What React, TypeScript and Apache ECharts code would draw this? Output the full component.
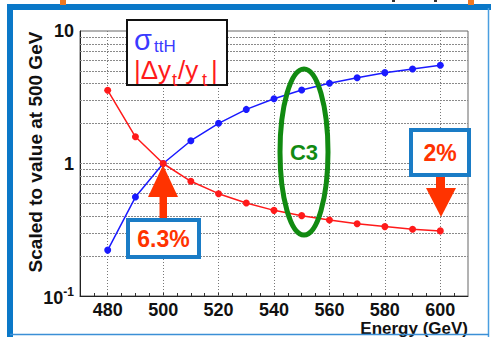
import React, { useEffect, useRef } from "react";
import * as echarts from "echarts";

const energies = [480, 490, 500, 510, 520, 530, 540, 550, 560, 570, 580, 590, 600];
const sigmaTTH = [0.222, 0.558, 1.0, 1.486, 2.01, 2.56, 3.08, 3.59, 4.03, 4.44, 4.85, 5.17, 5.51];
const deltaYt = [3.57, 1.59, 1.0, 0.734, 0.592, 0.503, 0.443, 0.404, 0.375, 0.351, 0.334, 0.319, 0.31];

const xLabelValues = [480, 500, 520, 540, 560, 580, 600];
const xTickValues = [475, 480, 485, 490, 495, 500, 505, 510, 515, 520, 525, 530, 535, 540, 545, 550, 555, 560, 565, 570, 575, 580, 585, 590, 595, 600, 605];
const yGridValues = [0.2, 0.3, 0.4, 0.5, 0.6, 0.7, 0.8, 0.9, 1, 2, 3, 4, 5, 6, 7, 8, 9];
const xGridValues = [480, 500, 520, 540, 560, 580, 600];

const FONT = "'Liberation Sans', Arial, sans-serif";
const BLUE = "#1a1aff";
const RED = "#ff1a1a";
const ORANGE_RED = "#ff3300";
const FRAME = "#0a78c8";
const GREEN = "#118a11";

export default function App() {
  const ref = useRef<HTMLDivElement>(null);
  useEffect(() => {
    if (!ref.current) return;
    const chart = echarts.init(ref.current, null, { renderer: "svg" });
    const markData: any[] = [];
    yGridValues.forEach((v) =>
      markData.push({ yAxis: v, lineStyle: { color: "#8a8a8a", type: [2, 1], width: 1 } })
    );
    xGridValues.forEach((v) =>
      markData.push({ xAxis: v, lineStyle: { color: "#777", type: [1, 2], width: 1 } })
    );
    const option: any = {
      animation: false,
      backgroundColor: "#ffffff",
      grid: {
        left: 80,
        top: 31,
        right: 23,
        bottom: 41,
        show: true,
        borderColor: "#666",
        borderWidth: 1,
      },
      xAxis: {
        type: "value",
        min: 470,
        max: 610,
        axisLine: { show: true, lineStyle: { color: "#222", width: 1 } },
        axisTick: {
          show: true,
          inside: true,
          length: 3,
          customValues: xTickValues,
          lineStyle: { color: "#333" },
        },
        axisLabel: {
          customValues: xLabelValues,
          fontSize: 18,
          fontWeight: "bold",
          fontFamily: FONT,
          color: "#111",
          margin: 5,
        },
        splitLine: { show: false },
      },
      yAxis: {
        type: "log",
        logBase: 10,
        min: 0.1,
        max: 10,
        axisLine: { show: true, lineStyle: { color: "#222", width: 1 } },
        axisTick: { show: false },
        splitLine: { show: false },
        axisLabel: {
          margin: 6,
          fontSize: 18,
          fontWeight: "bold",
          fontFamily: FONT,
          color: "#111",
          formatter: (v: number) => {
            const p = Math.round(Math.log10(v));
            if (p === 1) return "{b|10}";
            if (p === 0) return "{b|1}";
            return "{b|10}{sup|-1}";
          },
          rich: {
            b: { fontSize: 18, fontWeight: "bold", fontFamily: FONT, color: "#111", verticalAlign: "bottom" },
            sup: {
              fontSize: 12,
              fontWeight: "bold",
              fontFamily: FONT,
              color: "#111",
              verticalAlign: "bottom",
              padding: [0, 0, 9, 0],
            },
          },
        },
      },
      series: [
        {
          type: "line",
          data: energies.map((e, i) => [e, sigmaTTH[i]]),
          symbol: "circle",
          symbolSize: 7,
          lineStyle: { color: BLUE, width: 1.5 },
          itemStyle: { color: BLUE },
          z: 3,
          markLine: {
            silent: true,
            symbol: ["none", "none"],
            label: { show: false },
            z: 1,
            data: markData,
          },
        },
        {
          type: "line",
          data: energies.map((e, i) => [e, deltaYt[i]]),
          symbol: "circle",
          symbolSize: 7,
          lineStyle: { color: RED, width: 1.5 },
          itemStyle: { color: RED },
          z: 4,
        },
      ],
      graphic: [
        // slide frame
        { type: "rect", shape: { x: 7, y: 4, width: 484, height: 6 }, style: { fill: FRAME }, z: 100 },
        { type: "rect", shape: { x: 7, y: 4, width: 6, height: 333 }, style: { fill: FRAME }, z: 100 },
        { type: "line", shape: { x1: 488.5, y1: 8, x2: 488.5, y2: 337 }, style: { stroke: "#4a9ee0", lineWidth: 1.5 }, z: 100 },
        { type: "line", shape: { x1: 10, y1: 334.5, x2: 489, y2: 334.5 }, style: { stroke: "#3b8fd6", lineWidth: 1.5 }, z: 100 },
        { type: "rect", shape: { x: 60, y: 0, width: 6, height: 5 }, style: { fill: "#f07820" }, z: 101 },
        { type: "rect", shape: { x: 468, y: 0, width: 6, height: 5 }, style: { fill: "#f07820" }, z: 101 },
        { type: "rect", shape: { x: 392, y: 0, width: 3, height: 2 }, style: { fill: "#333" }, z: 101 },
        { type: "rect", shape: { x: 434, y: 0, width: 3, height: 2 }, style: { fill: "#333" }, z: 101 },
        // axis titles
        {
          type: "text",
          x: 35,
          y: 152,
          rotation: Math.PI / 2,
          style: {
            text: "Scaled to value at 500 GeV",
            fontSize: 19,
            fontWeight: "bold",
            fontFamily: FONT,
            fill: "#111",
            align: "center",
            verticalAlign: "middle",
          },
          z: 50,
        },
        {
          type: "text",
          x: 468,
          y: 328,
          style: {
            text: "Energy (GeV)",
            fontSize: 17,
            fontWeight: "bold",
            fontFamily: FONT,
            fill: "#111",
            align: "right",
            verticalAlign: "middle",
          },
          z: 50,
        },
        // legend box
        { type: "rect", shape: { x: 127, y: 20, width: 100, height: 65 }, style: { fill: "#fff", stroke: "#111", lineWidth: 2 }, z: 50 },
        { type: "text", x: 134, y: 40, style: { text: "σ", fontSize: 29, fontFamily: FONT, fill: "#3a3aff", align: "left", verticalAlign: "middle" }, z: 51 },
        { type: "text", x: 154, y: 46, style: { text: "ttH", fontSize: 17, fontFamily: FONT, fill: "#3a3aff", align: "left", verticalAlign: "middle" }, z: 51 },
        { type: "text", x: 134, y: 70, style: { text: "|Δy", fontSize: 26, fontFamily: FONT, fill: RED, align: "left", verticalAlign: "middle" }, z: 51 },
        { type: "text", x: 172, y: 80, style: { text: "t", fontSize: 18, fontFamily: FONT, fill: RED, align: "left", verticalAlign: "middle" }, z: 51 },
        { type: "text", x: 178, y: 70, style: { text: "/y", fontSize: 26, fontFamily: FONT, fill: RED, align: "left", verticalAlign: "middle" }, z: 51 },
        { type: "text", x: 202, y: 80, style: { text: "t", fontSize: 18, fontFamily: FONT, fill: RED, align: "left", verticalAlign: "middle" }, z: 51 },
        { type: "text", x: 211, y: 70, style: { text: "|", fontSize: 26, fontFamily: FONT, fill: RED, align: "left", verticalAlign: "middle" }, z: 51 },
        // green ellipse
        { type: "ellipse", shape: { cx: 304, cy: 152, rx: 24, ry: 83 }, style: { fill: "none", stroke: GREEN, lineWidth: 5 }, z: 40 },
        { type: "text", x: 304, y: 152, style: { text: "C3", fontSize: 22, fontWeight: "bold", fontFamily: FONT, fill: GREEN, align: "center", verticalAlign: "middle" }, z: 41 },
        // 6.3% box and arrow
        { type: "polygon", shape: { points: [[163, 165], [148, 197], [178, 197]] }, style: { fill: ORANGE_RED }, z: 45 },
        { type: "rect", shape: { x: 159.5, y: 196, width: 7.5, height: 23 }, style: { fill: ORANGE_RED }, z: 45 },
        { type: "rect", shape: { x: 128, y: 220, width: 71, height: 37 }, style: { fill: "#fff", stroke: "#1a7cc6", lineWidth: 4 }, z: 46 },
        { type: "text", x: 163.5, y: 239, style: { text: "6.3%", fontSize: 23, fontWeight: "bold", fontFamily: FONT, fill: ORANGE_RED, align: "center", verticalAlign: "middle" }, z: 47 },
        // 2% box and arrow
        { type: "rect", shape: { x: 436, y: 176, width: 9, height: 13 }, style: { fill: ORANGE_RED }, z: 45 },
        { type: "polygon", shape: { points: [[426, 188], [456, 188], [441, 217]] }, style: { fill: ORANGE_RED }, z: 45 },
        { type: "rect", shape: { x: 411, y: 130, width: 58, height: 45 }, style: { fill: "#fff", stroke: "#1a7cc6", lineWidth: 4 }, z: 46 },
        { type: "text", x: 440, y: 153, style: { text: "2%", fontSize: 23, fontWeight: "bold", fontFamily: FONT, fill: ORANGE_RED, align: "center", verticalAlign: "middle" }, z: 47 },
      ],
    };
    chart.setOption(option);
    return () => chart.dispose();
  }, []);
  return (
    <div
      ref={ref}
      style={{ position: "absolute", left: 0, top: 0, width: 491, height: 337, background: "#fff" }}
    />
  );
}
